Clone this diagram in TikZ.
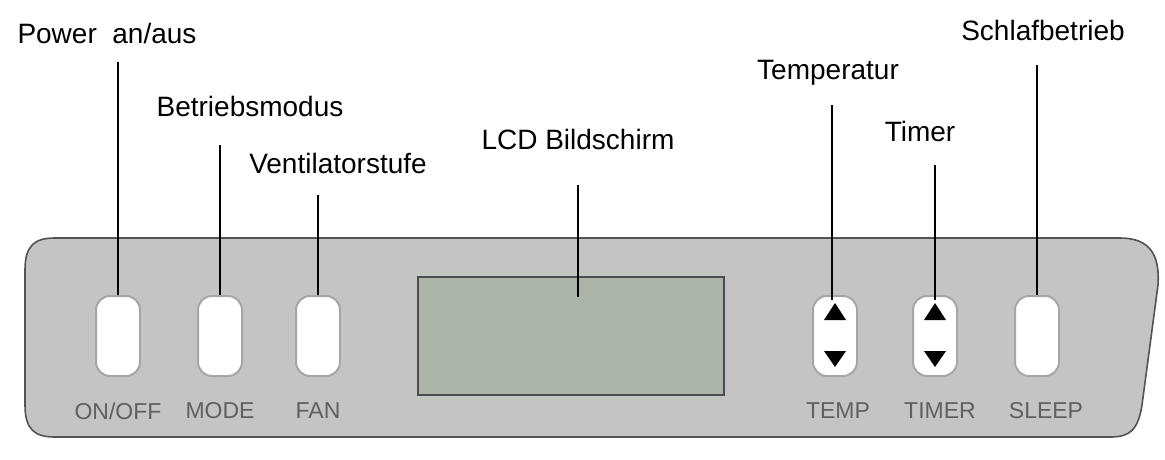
\documentclass[tikz,border=0pt]{standalone}
\usepackage{fontspec}
\setmainfont{Liberation Sans}
\definecolor{lcdc}{RGB}{172,180,170}
\definecolor{panelc}{RGB}{196,196,196}
\begin{document}
\begin{tikzpicture}[x=1pt,y=-1pt,
  lbl/.style={font=\fontsize{28}{32}\selectfont, inner sep=0pt},
  keylbl/.style={font=\fontsize{23}{26}\selectfont, text=gray!75!black, inner sep=0pt},
  btn/.style={draw=gray!70, line width=2pt, fill=white, rounded corners=14pt, minimum width=44pt, minimum height=80pt, inner sep=0pt},
  lead/.style={line width=1.6pt, black}]
\useasboundingbox (0,0) rectangle (1165,459);
% panel
\draw[line width=1.6pt, draw=gray!65!black, fill=panelc]
  (55,238) -- (1120,238) .. controls (1150,238) and (1160,255) .. (1158,285)
  -- (1142,405) .. controls (1138,430) and (1130,437) .. (1110,437)
  -- (55,437) .. controls (35,437) and (25,430) .. (25,405)
  -- (25,270) .. controls (25,245) and (35,238) .. (55,238) -- cycle;
% LCD
\node[draw=gray!60!black, line width=1.2pt, fill=lcdc, minimum width=306pt, minimum height=118pt, inner sep=0pt] (lcd) at (571,336) {};
% buttons
\node[btn] (onoff) at (118,336) {};
\node[btn] (mode) at (220,336) {};
\node[btn] (fan) at (318,336) {};
\node[btn] (temp) at (835,336) {};
\node[btn] (timer) at (935,336) {};
\node[btn] (sleep) at (1037,336) {};
\fill (824,320) -- (846,320) -- (835,303) -- cycle;
\fill (824,351) -- (846,351) -- (835,367) -- cycle;
\fill (924,320) -- (946,320) -- (935,303) -- cycle;
\fill (924,351) -- (946,351) -- (935,367) -- cycle;
% key labels
\node[keylbl] at (118,411) {ON/OFF};
\node[keylbl] at (220,411) {MODE};
\node[keylbl] at (318,411) {FAN};
\node[keylbl] at (838,411) {TEMP};
\node[keylbl] at (940,411) {TIMER};
\node[keylbl] at (1046,411) {SLEEP};
% callouts
\node[lbl] (lpow) at (107,33) {Power\ \ an/aus};
\node[lbl] (lmode) at (250,106) {Betriebsmodus};
\node[lbl] (lfan) at (338,163) {Ventilatorstufe};
\node[lbl] (llcd) at (578,139) {LCD Bildschirm};
\node[lbl] (ltemp) at (828,73) {Temperatur};
\node[lbl] (ltimer) at (920,131) {Timer};
\node[lbl] (lsleep) at (1043,30) {Schlafbetrieb};
\coordinate (c1) at (118,62); \draw[lead] (c1) -- (onoff.north);
\coordinate (c2) at (220,145); \draw[lead] (c2) -- (mode.north);
\coordinate (c3) at (318,195); \draw[lead] (c3) -- (fan.north);
\coordinate (c4) at (578,185); \draw[lead] (c4) -- (578,297);
\coordinate (c5) at (832,105); \draw[lead] (c5) -- (832,300);
\coordinate (c6) at (935,165); \draw[lead] (c6) -- (935,300);
\coordinate (c7) at (1037,65); \draw[lead] (c7) -- (sleep.north);
\end{tikzpicture}
\end{document}
